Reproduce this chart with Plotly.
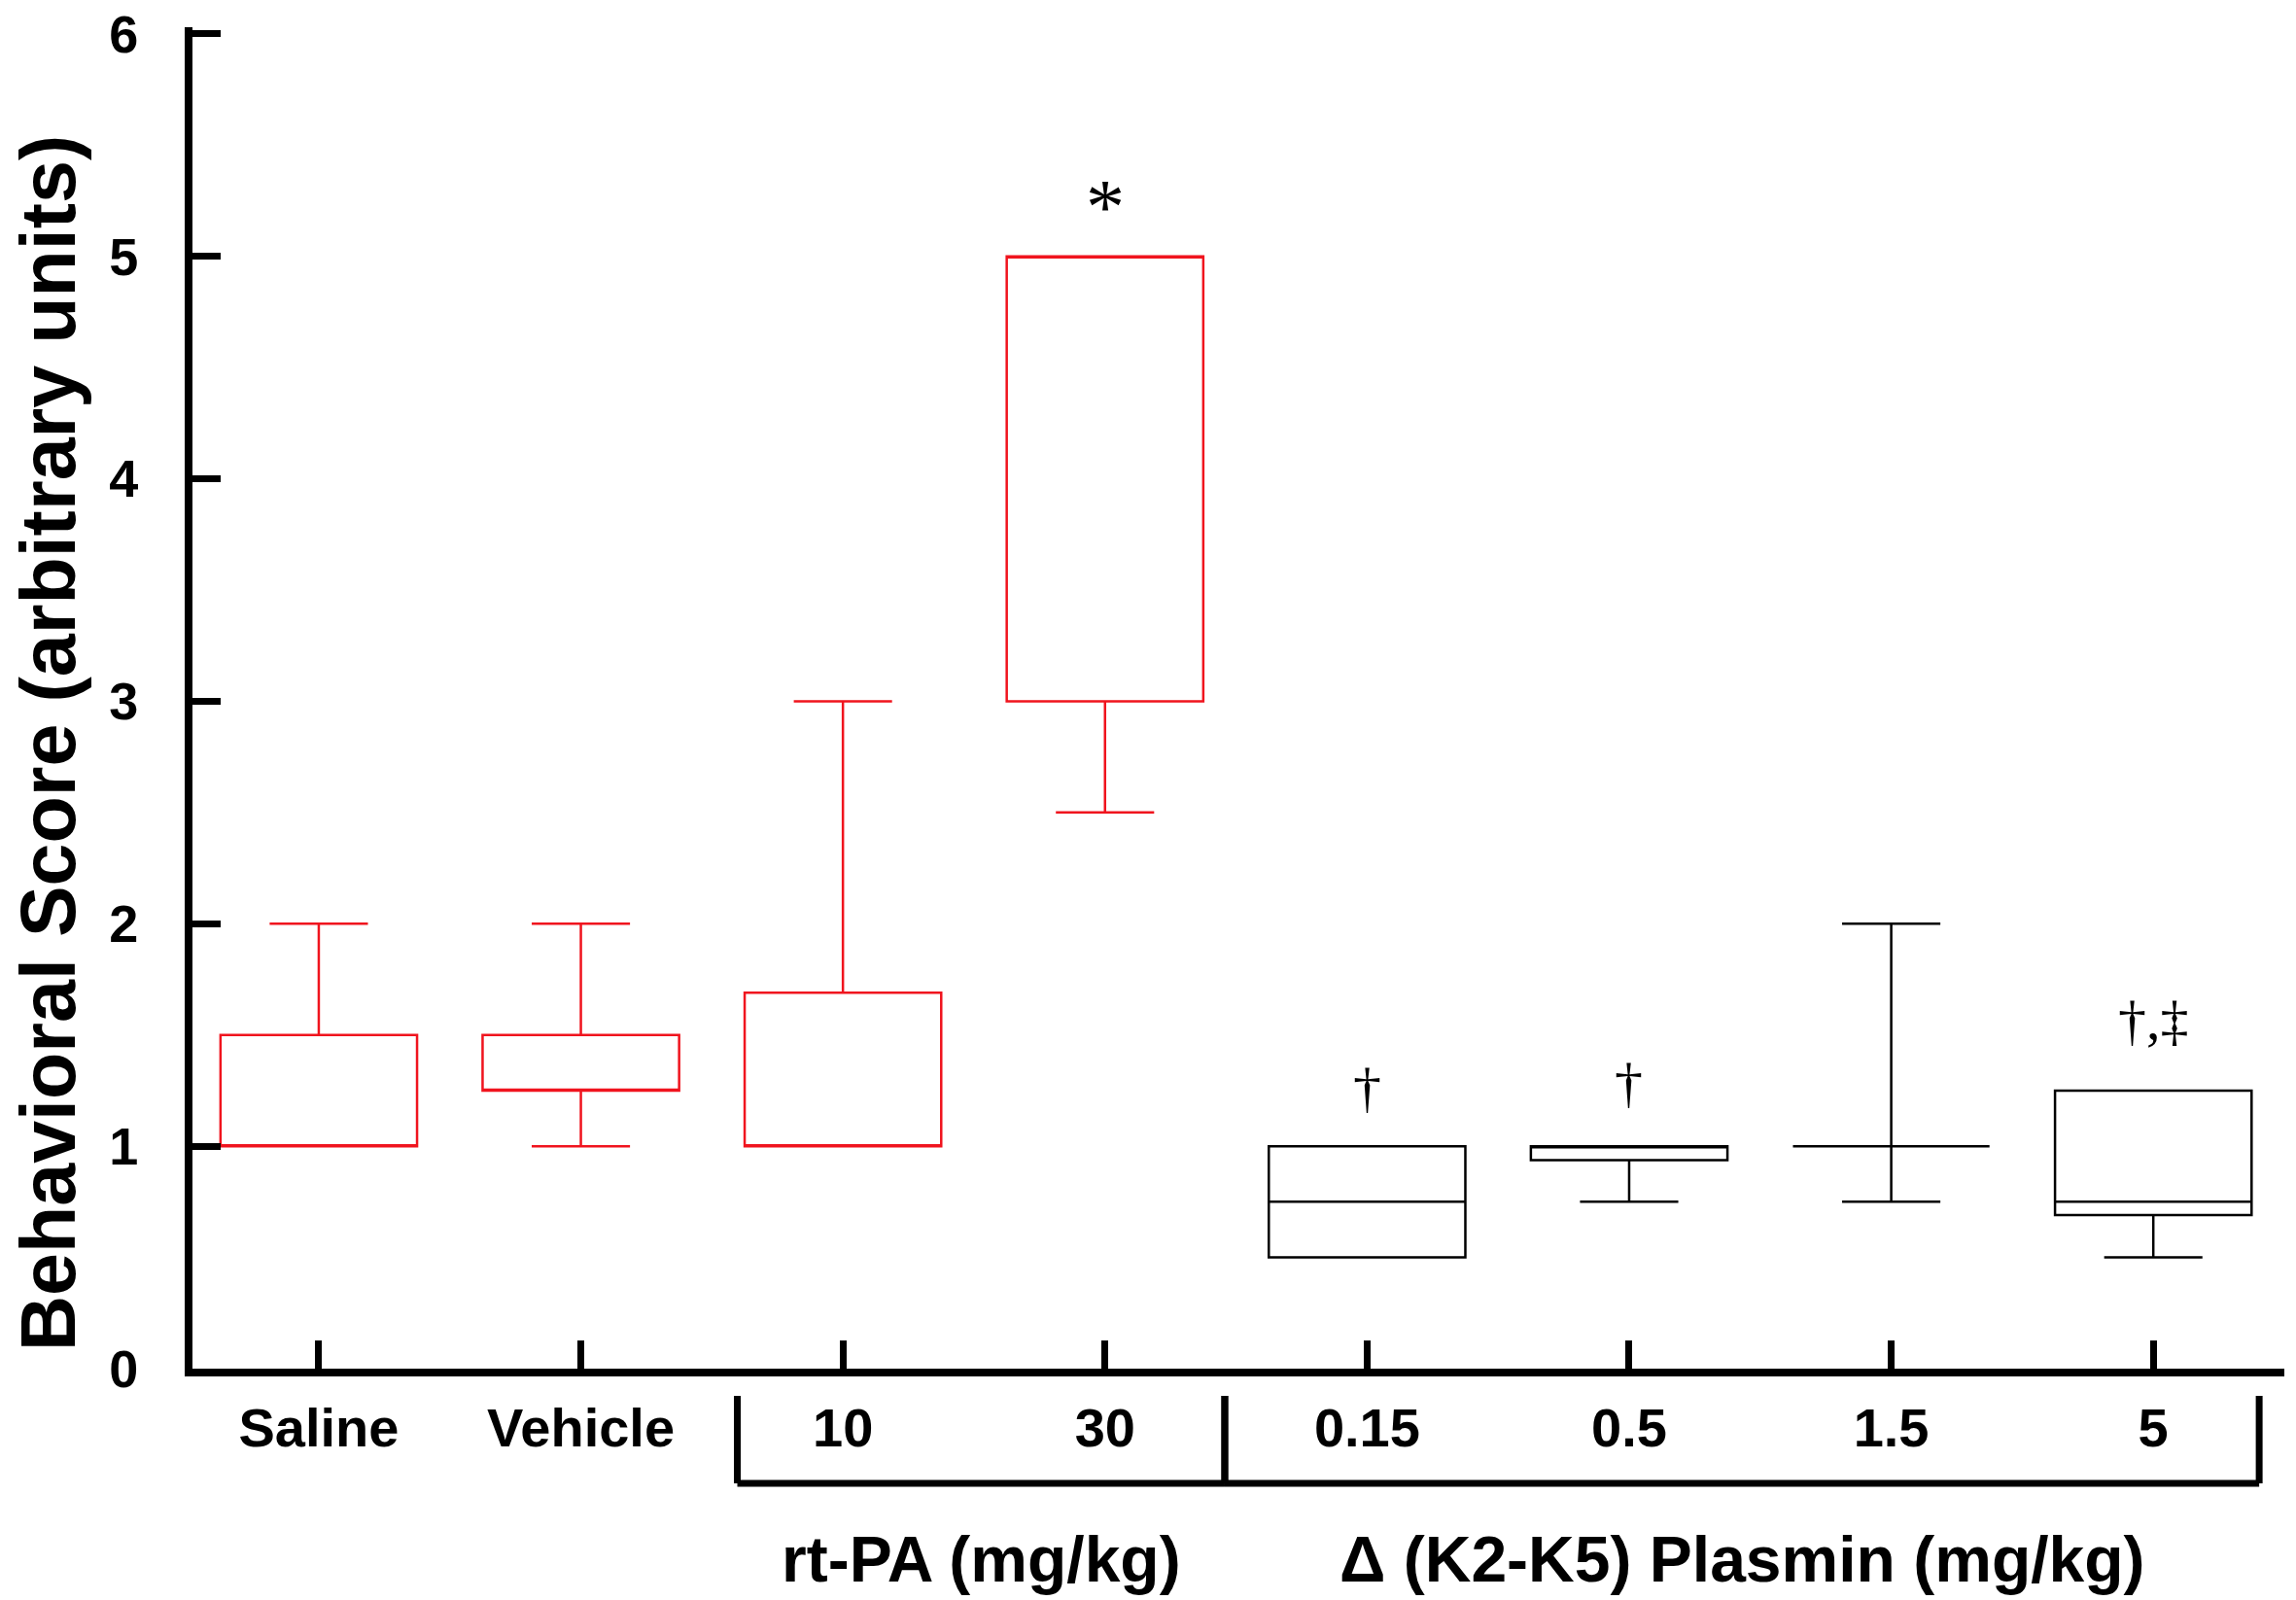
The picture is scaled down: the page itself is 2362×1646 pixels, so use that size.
import plotly.graph_objects as go

# ---- data ----
categories = ["Saline", "Vehicle", "10", "30", "0.15", "0.5", "1.5", "5"]
q1 = [1.0, 1.25, 1.0, 3.0, 0.5, 0.9375, 1.0, 0.69]
median = [1.0, 1.25, 1.0, 5.0, 0.75, 1.0, 1.0, 0.75]
q3 = [1.5, 1.5, 1.69, 5.0, 1.0, 1.0, 1.0, 1.25]
lower = [1.0, 1.0, 1.0, 2.5, 0.5, 0.75, 0.75, 0.5]
upper = [2.0, 2.0, 3.0, 5.0, 1.0, 1.0, 2.0, 1.25]
colors = ["red", "red", "red", "red", "black", "black", "black", "black"]

marks = ["", "", "", "*", "\u2020", "\u2020", "", "\u2020,\u2021"]
mark_y = [None, None, None, 5.22, 1.265, 1.285, None, 1.565]

y_ticks = [0, 1, 2, 3, 4, 5, 6]
y_range = [0, 6.03]

groups = ["rt-PA (mg/kg)", "\u0394 (K2-K5) Plasmin (mg/kg)"]
group_bounds = [(1.597, 3.457), (3.457, 7.404)]

RED = "#f0141e"
col_map = {"red": RED, "black": "#000000"}
SANS = "Liberation Sans, Arial, sans-serif"
SERIF = "Liberation Serif, Times New Roman, serif"

T, B = 28, 238
PLOT_H = 1646 - T - B

fig = go.Figure()
for i, c in enumerate(categories):
    col = col_map[colors[i]]
    fig.add_trace(go.Box(
        x=[c], q1=[q1[i]], median=[median[i]], q3=[q3[i]],
        lowerfence=[lower[i]], upperfence=[upper[i]],
        width=0.75, whiskerwidth=0.5,
        line=dict(color=col, width=2.5),
        fillcolor="rgba(0,0,0,0)",
        boxpoints=False, hoverinfo="skip", showlegend=False,
    ))

annotations = []
for i, m in enumerate(marks):
    if m:
        annotations.append(dict(
            x=i, y=mark_y[i], xref="x", yref="y", text=m,
            showarrow=False, xanchor="center", yanchor="middle",
            font=dict(family=SERIF, size=58 if m != "*" else 80, color="black"),
        ))

# y-axis title
annotations.append(dict(
    x=(49 - 198) / 2152, y=(1408 - 765) / PLOT_H, xref="paper", yref="paper",
    text="Behavioral Score (arbitrary units)", textangle=-90,
    showarrow=False, xanchor="center", yanchor="middle",
    font=dict(family=SANS, size=79, color="black", weight="bold"),
))

def py(pix):
    return (1408 - pix) / PLOT_H

shapes = []
for g, (a, b) in zip(groups, group_bounds):
    for (xa, xb, ya, yb) in [(a, a, py(1436), py(1526)), (a, b, py(1526), py(1526)), (b, b, py(1436), py(1526))]:
        shapes.append(dict(type="line", xref="x", yref="paper", x0=xa, x1=xb, y0=ya, y1=yb,
                           line=dict(color="black", width=7)))
    annotations.append(dict(
        x=(a + b) / 2, y=py(1604), xref="x", yref="paper", text=g,
        showarrow=False, xanchor="center", yanchor="middle",
        font=dict(family=SANS, size=66, color="black", weight="bold"),
    ))

fig.update_layout(
    width=2362, height=1646,
    margin=dict(l=198, r=12, t=T, b=B, autoexpand=False),
    paper_bgcolor="white", plot_bgcolor="white",
    boxmode="overlay",
    annotations=annotations, shapes=shapes,
    xaxis=dict(
        type="category", categoryorder="array", categoryarray=categories,
        range=[-0.482, 7.5], showline=True, linecolor="black", linewidth=8,
        ticks="inside", ticklen=29, tickwidth=7, tickcolor="black",
        showgrid=False, zeroline=False, ticklabelstandoff=5, automargin=False,
        tickfont=dict(family=SANS, size=56, color="black", weight="bold"),
    ),
    yaxis=dict(
        range=y_range, tickvals=y_ticks, showline=True, linecolor="black", linewidth=8,
        ticks="inside", ticklen=29, tickwidth=7, tickcolor="black",
        showgrid=False, zeroline=False, ticklabelstandoff=37, automargin=False,
        ticklabeloverflow="allow",
        tickfont=dict(family=SANS, size=54, color="black", weight="bold"),
    ),
)

fig.write_html("out.html", config={"displayModeBar": False},
               post_script="document.body.style.margin='0';")
